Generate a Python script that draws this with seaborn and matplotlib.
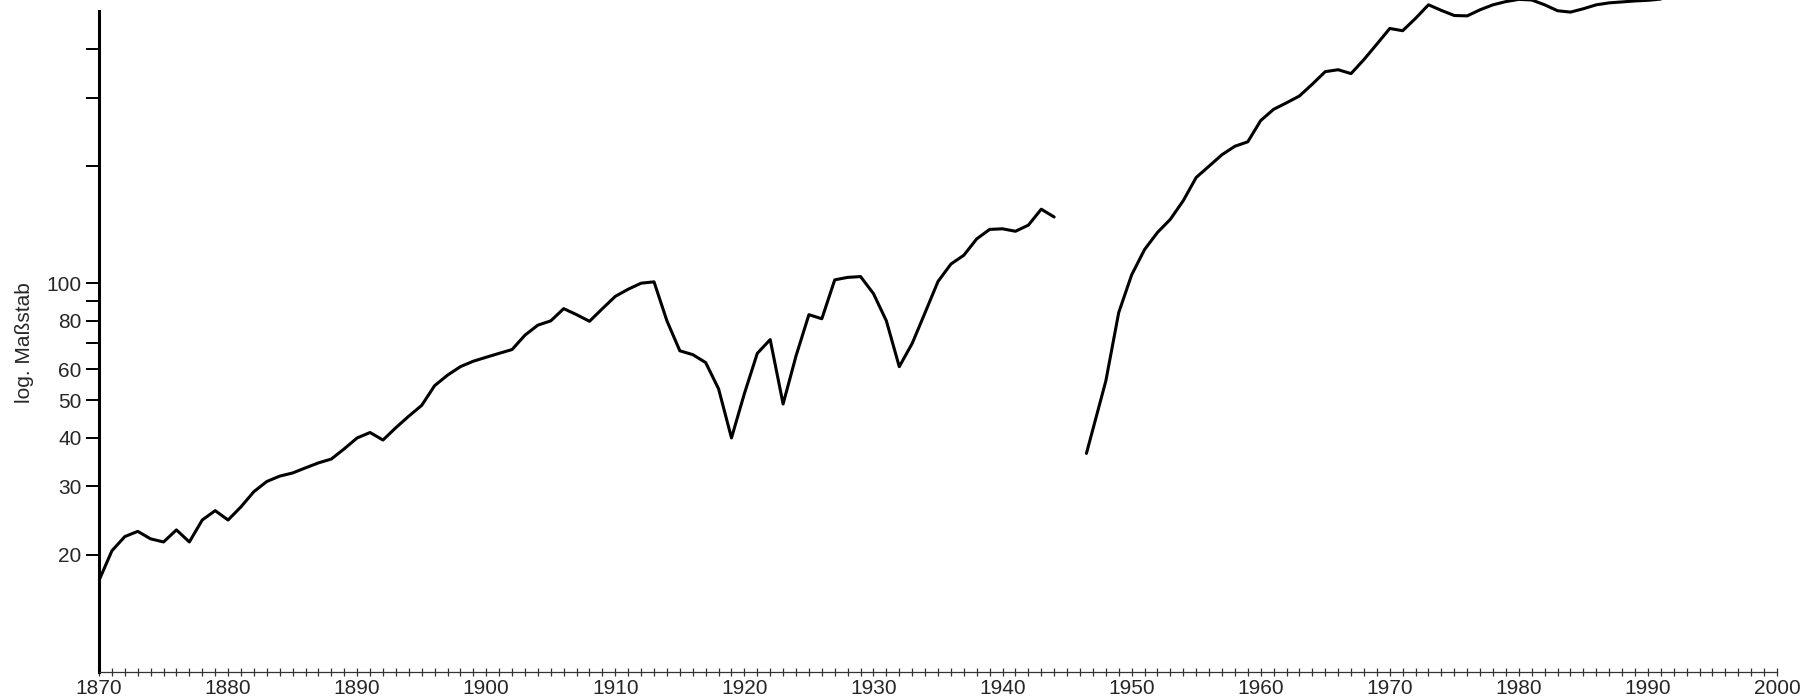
import matplotlib
matplotlib.use("Agg")
import matplotlib.pyplot as plt
import pandas as pd
import seaborn as sns

# Index values (log scale), two segments with a gap after the war
years_pre = list(range(1870, 1945))
values_pre = [17.2, 20.5, 22.3, 23.0, 22.0, 21.6, 23.2, 21.6, 24.6, 26.0,
              24.6, 26.6, 29.1, 30.9, 31.9, 32.5, 33.5, 34.5, 35.3, 37.5,
              40.0, 41.3, 39.5, 42.5, 45.5, 48.5, 54.5, 58.0, 61.0, 63.0,
              64.5, 66.0, 67.5, 73.5, 78.0, 80.0, 86.0, 83.0, 79.8, 86.0,
              92.5, 96.5, 100.0, 100.8, 80.0, 67.0, 65.5, 62.5, 53.5, 40.0,
              52.0, 66.0, 71.6, 48.9, 65.0, 83.0, 81.0, 102.0, 103.5, 104.0,
              94.0, 80.0, 61.0, 70.0, 84.0, 101.0, 112.0, 118.0, 130.0, 137.5,
              138.0, 136.0, 141.0, 155.0, 148.0]

years_post = [1946.5] + list(range(1948, 1992))
values_post = [36.5, 56.0, 84.0, 105.0, 122.0, 135.0, 146.0, 163.0, 187.0, 200.0,
               214.0, 225.0, 231.0, 262.0, 280.0, 291.0, 303.0, 325.0, 350.0, 354.0,
               346.0, 376.0, 412.0, 452.0, 446.0, 480.0, 520.0, 503.0, 488.0, 487.0,
               505.0, 520.0, 530.0, 537.0, 535.0, 520.0, 502.0, 498.0, 508.0, 520.0,
               526.0, 529.0, 532.0, 534.0, 538.0]

ytick_values = [20, 30, 40, 50, 60, 70, 80, 90, 100, 200, 300, 400]
ytick_labels = ["20", "30", "40", "50", "60", "", "80", "", "100", "", "", ""]
xtick_labels = list(range(1870, 2001, 10))

df = pd.DataFrame({
    "Jahr": years_pre + years_post,
    "Wert": values_pre + values_post,
    "Abschnitt": ["vor"] * len(years_pre) + ["nach"] * len(years_post),
})

sns.set_style("white")
plt.rcParams["font.family"] = ["Liberation Sans", "DejaVu Sans"]

fig = plt.figure(figsize=(18.19, 7.0), dpi=100)
ax = fig.add_axes([99 / 1819, 28 / 700, (1777 - 99) / 1819, 672 / 700])

sns.lineplot(data=df, x="Jahr", y="Wert", units="Abschnitt", estimator=None,
             color="black", linewidth=2.2, ax=ax)

ax.set_yscale("log")
ax.set_ylim(10, 535)
ax.set_xlim(1870, 2000)

ax.set_yticks(ytick_values)
ax.set_yticklabels(ytick_labels)
ax.yaxis.set_minor_locator(matplotlib.ticker.NullLocator())
ax.tick_params(axis="y", which="major", direction="out", length=9.5, width=1.4,
               labelsize=15, pad=3, color="black", left=True)

ax.set_xticks(xtick_labels)
ax.set_xticklabels([str(x) for x in xtick_labels])
ax.set_xticks(range(1870, 2001), minor=True)
ax.tick_params(axis="x", which="both", direction="inout", length=6, width=0.9,
               labelsize=15, pad=2, color="#333333", bottom=True)

for side in ["top", "right"]:
    ax.spines[side].set_visible(False)
ax.spines["left"].set_linewidth(2.2)
ax.spines["left"].set_color("black")
ax.spines["left"].set_bounds(10, 500)
ax.spines["bottom"].set_linewidth(0.9)
ax.spines["bottom"].set_color("#333333")

ax.set_xlabel("")
ax.set_ylabel("log. Maßstab", fontsize=15)
ax.yaxis.set_label_coords(-0.039, 0.49)

fig.savefig("out.png", dpi=100, facecolor="white")
